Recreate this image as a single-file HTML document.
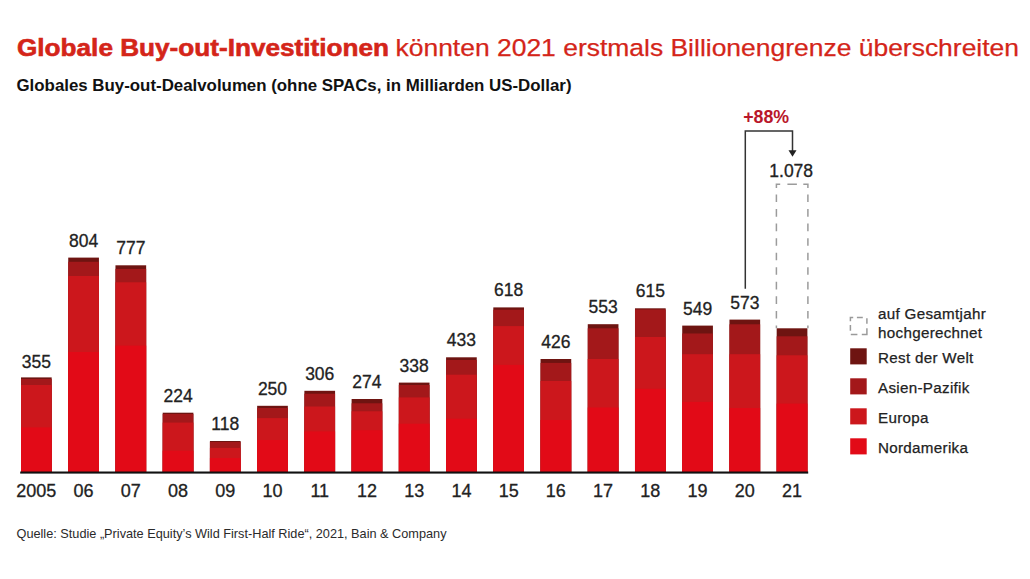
<!DOCTYPE html>
<html><head><meta charset="utf-8">
<style>
html,body{margin:0;padding:0;background:#fff;}
body{width:1030px;height:579px;overflow:hidden;position:relative;}
svg{position:absolute;left:0;top:0;}
text{font-family:"Liberation Sans",sans-serif;}
.tb{font-size:24.5px;font-weight:bold;fill:#D42519;stroke:#D42519;stroke-width:0.6px;}
.tr{font-size:24.5px;fill:#D42519;stroke:#D42519;stroke-width:0.25px;}
.sub{font-size:16.4px;font-weight:bold;fill:#111;}
.src{font-size:12.6px;fill:#2a2a2a;}
.v{font-size:17.5px;fill:#222;text-anchor:middle;stroke:#222;stroke-width:0.3px;}
.ax{font-size:18px;fill:#222;text-anchor:middle;stroke:#222;stroke-width:0.3px;}
.pct{font-size:17.6px;font-weight:bold;fill:#B9172A;}
.lg{font-size:15.2px;fill:#222;letter-spacing:0.3px;stroke:#222;stroke-width:0.25px;}
</style></head><body>
<svg width="1030" height="579" viewBox="0 0 1030 579">
<rect x="21.00" y="377.40" width="30.7" height="94.60" fill="#6E1411"/>
<rect x="21.00" y="379.00" width="30.7" height="93.00" fill="#A3181A"/>
<rect x="21.00" y="385.00" width="30.7" height="87.00" fill="#CC171C"/>
<rect x="21.00" y="427.40" width="30.7" height="44.60" fill="#E20A17"/>
<text x="36.35" y="367.60" class="v">355</text>
<text x="36.35" y="496.8" class="ax">2005</text>
<rect x="68.23" y="257.60" width="30.7" height="214.40" fill="#6E1411"/>
<rect x="68.23" y="261.80" width="30.7" height="210.20" fill="#A3181A"/>
<rect x="68.23" y="276.00" width="30.7" height="196.00" fill="#CC171C"/>
<rect x="68.23" y="352.00" width="30.7" height="120.00" fill="#E20A17"/>
<text x="83.58" y="246.60" class="v">804</text>
<text x="83.58" y="496.8" class="ax">06</text>
<rect x="115.46" y="265.30" width="30.7" height="206.70" fill="#6E1411"/>
<rect x="115.46" y="268.90" width="30.7" height="203.10" fill="#A3181A"/>
<rect x="115.46" y="282.30" width="30.7" height="189.70" fill="#CC171C"/>
<rect x="115.46" y="345.60" width="30.7" height="126.40" fill="#E20A17"/>
<text x="130.81" y="254.30" class="v">777</text>
<text x="130.81" y="496.8" class="ax">07</text>
<rect x="162.69" y="412.70" width="30.7" height="59.30" fill="#6E1411"/>
<rect x="162.69" y="414.00" width="30.7" height="58.00" fill="#A3181A"/>
<rect x="162.69" y="422.60" width="30.7" height="49.40" fill="#CC171C"/>
<rect x="162.69" y="450.70" width="30.7" height="21.30" fill="#E20A17"/>
<text x="178.04" y="401.70" class="v">224</text>
<text x="178.04" y="496.8" class="ax">08</text>
<rect x="209.92" y="441.00" width="30.7" height="31.00" fill="#6E1411"/>
<rect x="209.92" y="442.00" width="30.7" height="30.00" fill="#A3181A"/>
<rect x="209.92" y="447.90" width="30.7" height="24.10" fill="#CC171C"/>
<rect x="209.92" y="458.00" width="30.7" height="14.00" fill="#E20A17"/>
<text x="225.27" y="430.00" class="v">118</text>
<text x="225.27" y="496.8" class="ax">09</text>
<rect x="257.15" y="405.80" width="30.7" height="66.20" fill="#6E1411"/>
<rect x="257.15" y="408.00" width="30.7" height="64.00" fill="#A3181A"/>
<rect x="257.15" y="418.10" width="30.7" height="53.90" fill="#CC171C"/>
<rect x="257.15" y="440.00" width="30.7" height="32.00" fill="#E20A17"/>
<text x="272.50" y="394.80" class="v">250</text>
<text x="272.50" y="496.8" class="ax">10</text>
<rect x="304.38" y="390.80" width="30.7" height="81.20" fill="#6E1411"/>
<rect x="304.38" y="393.70" width="30.7" height="78.30" fill="#A3181A"/>
<rect x="304.38" y="406.50" width="30.7" height="65.50" fill="#CC171C"/>
<rect x="304.38" y="431.40" width="30.7" height="40.60" fill="#E20A17"/>
<text x="319.73" y="379.80" class="v">306</text>
<text x="319.73" y="496.8" class="ax">11</text>
<rect x="351.61" y="399.00" width="30.7" height="73.00" fill="#6E1411"/>
<rect x="351.61" y="403.30" width="30.7" height="68.70" fill="#A3181A"/>
<rect x="351.61" y="411.30" width="30.7" height="60.70" fill="#CC171C"/>
<rect x="351.61" y="430.20" width="30.7" height="41.80" fill="#E20A17"/>
<text x="366.96" y="388.00" class="v">274</text>
<text x="366.96" y="496.8" class="ax">12</text>
<rect x="398.84" y="382.60" width="30.7" height="89.40" fill="#6E1411"/>
<rect x="398.84" y="385.00" width="30.7" height="87.00" fill="#A3181A"/>
<rect x="398.84" y="397.40" width="30.7" height="74.60" fill="#CC171C"/>
<rect x="398.84" y="423.70" width="30.7" height="48.30" fill="#E20A17"/>
<text x="414.19" y="371.60" class="v">338</text>
<text x="414.19" y="496.8" class="ax">13</text>
<rect x="446.07" y="357.30" width="30.7" height="114.70" fill="#6E1411"/>
<rect x="446.07" y="360.00" width="30.7" height="112.00" fill="#A3181A"/>
<rect x="446.07" y="374.70" width="30.7" height="97.30" fill="#CC171C"/>
<rect x="446.07" y="418.70" width="30.7" height="53.30" fill="#E20A17"/>
<text x="461.42" y="346.30" class="v">433</text>
<text x="461.42" y="496.8" class="ax">14</text>
<rect x="493.30" y="307.40" width="30.7" height="164.60" fill="#6E1411"/>
<rect x="493.30" y="309.70" width="30.7" height="162.30" fill="#A3181A"/>
<rect x="493.30" y="326.10" width="30.7" height="145.90" fill="#CC171C"/>
<rect x="493.30" y="364.90" width="30.7" height="107.10" fill="#E20A17"/>
<text x="508.65" y="296.40" class="v">618</text>
<text x="508.65" y="496.8" class="ax">15</text>
<rect x="540.53" y="359.00" width="30.7" height="113.00" fill="#6E1411"/>
<rect x="540.53" y="362.90" width="30.7" height="109.10" fill="#A3181A"/>
<rect x="540.53" y="381.00" width="30.7" height="91.00" fill="#CC171C"/>
<rect x="540.53" y="420.00" width="30.7" height="52.00" fill="#E20A17"/>
<text x="555.88" y="348.00" class="v">426</text>
<text x="555.88" y="496.8" class="ax">16</text>
<rect x="587.76" y="324.20" width="30.7" height="147.80" fill="#6E1411"/>
<rect x="587.76" y="328.30" width="30.7" height="143.70" fill="#A3181A"/>
<rect x="587.76" y="359.00" width="30.7" height="113.00" fill="#CC171C"/>
<rect x="587.76" y="407.50" width="30.7" height="64.50" fill="#E20A17"/>
<text x="603.11" y="313.20" class="v">553</text>
<text x="603.11" y="496.8" class="ax">17</text>
<rect x="634.99" y="308.30" width="30.7" height="163.70" fill="#6E1411"/>
<rect x="634.99" y="309.50" width="30.7" height="162.50" fill="#A3181A"/>
<rect x="634.99" y="337.00" width="30.7" height="135.00" fill="#CC171C"/>
<rect x="634.99" y="388.80" width="30.7" height="83.20" fill="#E20A17"/>
<text x="650.34" y="297.30" class="v">615</text>
<text x="650.34" y="496.8" class="ax">18</text>
<rect x="682.22" y="325.60" width="30.7" height="146.40" fill="#6E1411"/>
<rect x="682.22" y="333.50" width="30.7" height="138.50" fill="#A3181A"/>
<rect x="682.22" y="354.20" width="30.7" height="117.80" fill="#CC171C"/>
<rect x="682.22" y="401.90" width="30.7" height="70.10" fill="#E20A17"/>
<text x="697.57" y="314.60" class="v">549</text>
<text x="697.57" y="496.8" class="ax">19</text>
<rect x="729.45" y="319.60" width="30.7" height="152.40" fill="#6E1411"/>
<rect x="729.45" y="324.30" width="30.7" height="147.70" fill="#A3181A"/>
<rect x="729.45" y="354.20" width="30.7" height="117.80" fill="#CC171C"/>
<rect x="729.45" y="408.00" width="30.7" height="64.00" fill="#E20A17"/>
<text x="744.80" y="308.60" class="v">573</text>
<text x="744.80" y="496.8" class="ax">20</text>
<rect x="776.68" y="328.30" width="30.7" height="143.70" fill="#6E1411"/>
<rect x="776.68" y="336.30" width="30.7" height="135.70" fill="#A3181A"/>
<rect x="776.68" y="355.30" width="30.7" height="116.70" fill="#CC171C"/>
<rect x="776.68" y="403.60" width="30.7" height="68.40" fill="#E20A17"/>
<text x="792.03" y="496.8" class="ax">21</text>
<rect x="20.2" y="471.5" width="788" height="2.1" fill="#111"/>
<path d="M776.4 187.9 V184.3 H780.1999999999999 M787.4 184.3 H796.9 M803.3 184.3 H807.9 V187.9 M776.4 194.50 V202.10 M807.9 194.50 V202.10 M776.4 209.05 V216.65 M807.9 209.05 V216.65 M776.4 223.60 V231.20 M807.9 223.60 V231.20 M776.4 238.15 V245.75 M807.9 238.15 V245.75 M776.4 252.70 V260.30 M807.9 252.70 V260.30 M776.4 267.25 V274.85 M807.9 267.25 V274.85 M776.4 281.80 V289.40 M807.9 281.80 V289.40 M776.4 296.35 V303.95 M807.9 296.35 V303.95 M776.4 310.90 V318.50 M807.9 310.90 V318.50 M776.4 325.45 V328.30 M807.9 325.45 V328.30" fill="none" stroke="#9b9b9b" stroke-width="1.5"/>
<text x="791.2" y="176.8" class="v">1.078</text>
<path d="M745.30 288.7 V131 H792.50 V151" fill="none" stroke="#333" stroke-width="1.5"/>
<path d="M788.50 150.3 L796.50 150.3 L792.50 156.8 Z" fill="#222"/>
<text x="743.2" y="122.6" class="pct" textLength="46" lengthAdjust="spacingAndGlyphs">+88%</text>
<rect x="850.2" y="348.3" width="16.5" height="16.1" fill="#6E1411"/>
<text x="878" y="363.00" class="lg">Rest der Welt</text>
<rect x="850.2" y="378.3" width="16.5" height="16.1" fill="#A3181A"/>
<text x="878" y="393.00" class="lg">Asien-Pazifik</text>
<rect x="850.2" y="408.3" width="16.5" height="16.1" fill="#CC171C"/>
<text x="878" y="423.00" class="lg">Europa</text>
<rect x="850.2" y="438.3" width="16.5" height="16.1" fill="#E20A17"/>
<text x="878" y="453.00" class="lg">Nordamerika</text>
<path d="M850.4 321.2 V317.6 H853.2 M856.9 317.6 H862.8 M866.9 318.2 V323.8 M850.4 325 V330.8 M866.9 328.2 V334.6 H861.8 M850.8 334.6 H857.4" fill="none" stroke="#9a9a9a" stroke-width="1.5"/>
<text x="878" y="319.2" class="lg">auf Gesamtjahr</text>
<text x="878" y="337.5" class="lg">hochgerechnet</text>
<text x="17.0" y="55.9" class="tb" textLength="372" lengthAdjust="spacingAndGlyphs">Globale Buy-out-Investitionen</text>
<text x="395.5" y="55.9" class="tr" textLength="623.5" lengthAdjust="spacingAndGlyphs">könnten 2021 erstmals Billionengrenze überschreiten</text>
<text x="16.5" y="90.5" class="sub" textLength="555" lengthAdjust="spacingAndGlyphs">Globales Buy-out-Dealvolumen (ohne SPACs, in Milliarden US-Dollar)</text>
<text x="16.5" y="537.8" class="src" textLength="430" lengthAdjust="spacingAndGlyphs">Quelle: Studie „Private Equity’s Wild First-Half Ride“, 2021, Bain &amp; Company</text>
</svg>
</body></html>
